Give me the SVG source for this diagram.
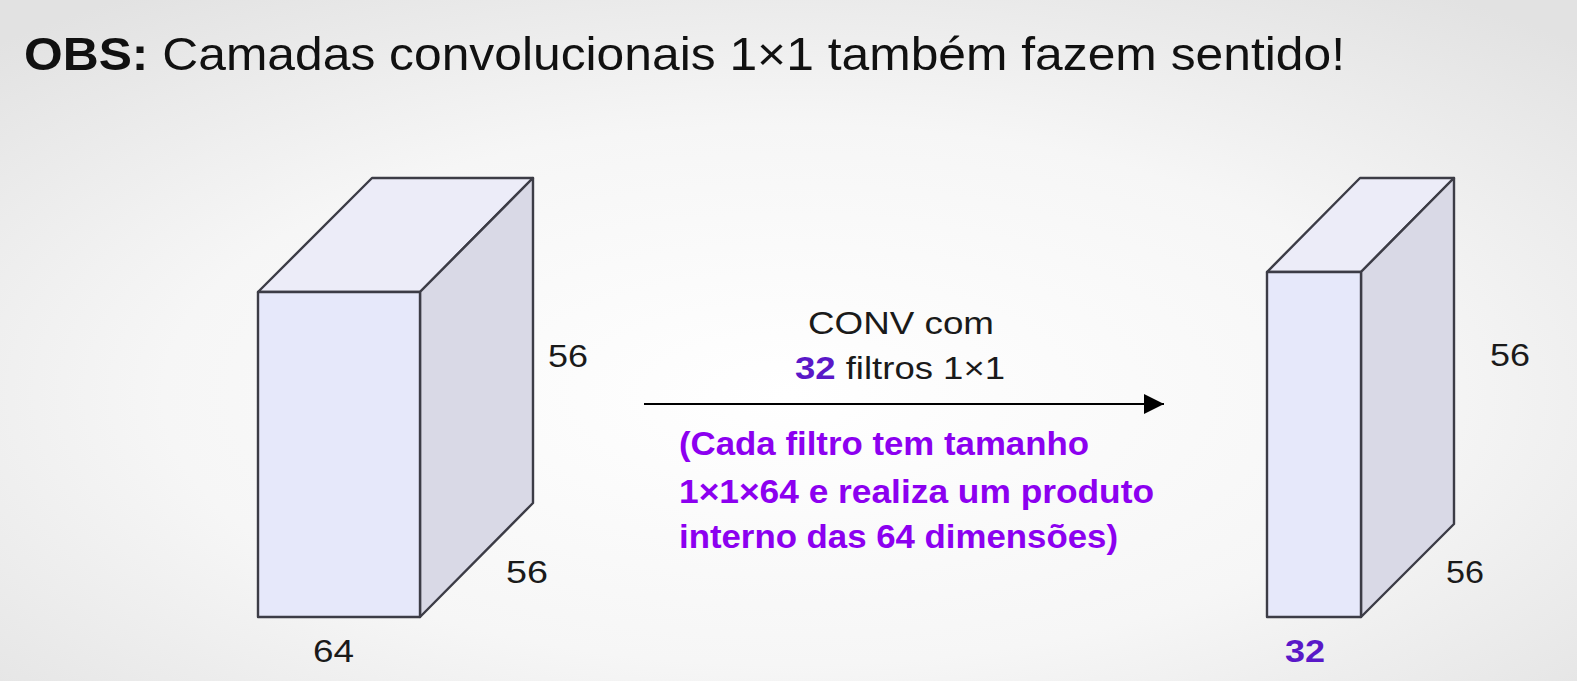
<svg xmlns="http://www.w3.org/2000/svg" width="1577" height="681" viewBox="0 0 1577 681">
<defs>
<radialGradient id="bg" cx="0.5" cy="0.58" r="0.72">
<stop offset="0" stop-color="#ffffff"/>
<stop offset="0.55" stop-color="#f6f6f6"/>
<stop offset="1" stop-color="#e2e2e2"/>
</radialGradient>
<marker id="ah" viewBox="0 0 10 10" refX="10" refY="5" markerWidth="20" markerHeight="20" markerUnits="userSpaceOnUse" orient="auto">
<path d="M0,0 L10,5 L0,10 Z" fill="#000"/>
</marker>
</defs>
<style>
.front{fill:#e6e8fa;stroke:#3c3c46;stroke-width:2.4;stroke-linejoin:round}
.top{fill:#ececf8;stroke:#3c3c46;stroke-width:2.4;stroke-linejoin:round}
.side{fill:#d9d9e6;stroke:#3c3c46;stroke-width:2.4;stroke-linejoin:round}
.lbl{font-family:"Liberation Sans",Arial,sans-serif;font-size:32px;fill:#1a1a1a}
.num{font-family:"Liberation Sans",Arial,sans-serif;font-size:32px;font-weight:bold;fill:#5a18c8}
.note{font-family:"Liberation Sans",Arial,sans-serif;font-size:33px;font-weight:bold;fill:#8c00f0}
.title{font-family:"Liberation Sans",Arial,sans-serif;font-size:47px;fill:#111}
</style>
<rect x="0" y="0" width="1577" height="681" fill="url(#bg)"/>
<g id="title">
<text class="title" x="24" y="70" textLength="1321" lengthAdjust="spacingAndGlyphs"><tspan font-weight="bold">OBS:</tspan> Camadas convolucionais 1×1 também fazem sentido!</text>
</g>
<g id="input-volume">
<polygon class="top" points="258,292 372,178 533,178 420,292"/>
<polygon class="side" points="420,292 533,178 533,503 420,617"/>
<rect class="front" x="258" y="292" width="162" height="325"/>
<text class="lbl" x="548" y="367" textLength="40" lengthAdjust="spacingAndGlyphs">56</text>
<text class="lbl" x="506" y="583" textLength="42" lengthAdjust="spacingAndGlyphs">56</text>
<text class="lbl" x="313" y="662" textLength="41" lengthAdjust="spacingAndGlyphs">64</text>
</g>
<g id="output-volume">
<polygon class="top" points="1267,272 1360,178 1454,178 1361,272"/>
<polygon class="side" points="1361,272 1454,178 1454,524 1361,617"/>
<rect class="front" x="1267" y="272" width="94" height="345"/>
<text class="lbl" x="1490" y="366" textLength="40" lengthAdjust="spacingAndGlyphs">56</text>
<text class="lbl" x="1446" y="583" textLength="38" lengthAdjust="spacingAndGlyphs">56</text>
<text class="num" x="1285" y="662" textLength="40" lengthAdjust="spacingAndGlyphs">32</text>
</g>
<g id="connectors">
<line x1="644" y1="404" x2="1164" y2="404" stroke="#000" stroke-width="2" marker-end="url(#ah)"/>
</g>
<g id="arrow-label">
<text class="lbl" x="808" y="334" textLength="186" lengthAdjust="spacingAndGlyphs">CONV com</text>
<text class="lbl" x="795" y="379" textLength="210" lengthAdjust="spacingAndGlyphs"><tspan class="num">32</tspan> filtros 1×1</text>
<text class="note" x="679" y="455" textLength="410" lengthAdjust="spacingAndGlyphs">(Cada filtro tem tamanho</text>
<text class="note" x="679" y="503" textLength="475" lengthAdjust="spacingAndGlyphs">1×1×64 e realiza um produto</text>
<text class="note" x="679" y="548" textLength="439" lengthAdjust="spacingAndGlyphs">interno das 64 dimensões)</text>
</g>
</svg>
